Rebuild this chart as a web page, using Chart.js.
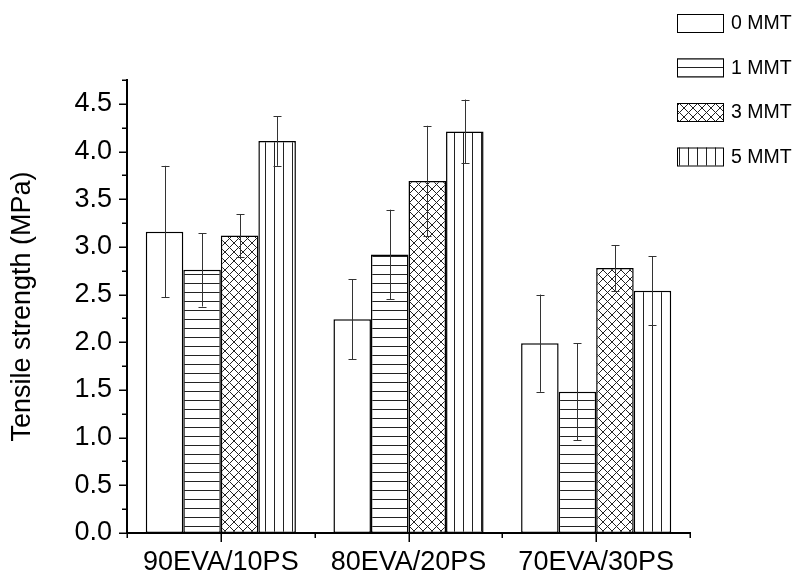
<!DOCTYPE html>
<html>
<head>
<meta charset="utf-8">
<script src="https://cdn.jsdelivr.net/npm/chart.js@4/dist/chart.umd.min.js"></script>
<style>
  body { margin: 0; background: #fff; }
  #wrap { width: 797px; height: 574px; }
</style>
</head>
<body>
<div id="wrap"><canvas id="tensileChart" width="797" height="574"></canvas></div>
<script>
// blends
var categories = ["90EVA/10PS", "80EVA/20PS", "70EVA/30PS"];
var seriesNames = ["0 MMT", "1 MMT", "3 MMT", "5 MMT"];

// tensile strength (MPa)
var mmt0 = [3.16, 2.24, 1.99];
var mmt1 = [2.76, 2.92, 1.48];
var mmt3 = [3.12, 3.69, 2.78];
var mmt5 = [4.11, 4.21, 2.54];

// standard deviation
var err0 = [0.69, 0.42, 0.51];
var err1 = [0.385, 0.47, 0.51];
var err3 = [0.225, 0.58, 0.24];
var err5 = [0.26, 0.335, 0.36];

var yMin = 0;
var yMax = 4.75;
var yStep = 0.25;

var FONT = "'Liberation Sans', Arial, sans-serif";

function makePattern(kind) {
    const c = document.createElement("canvas");
    c.width = 9;
    c.height = 9;
    const g = c.getContext("2d");
    g.fillStyle = "#fff";
    g.fillRect(0, 0, 9, 9);
    g.strokeStyle = "#222";
    g.lineWidth = 1;
    g.beginPath();
    if (kind === "h") {
        g.moveTo(0, 4.5);
        g.lineTo(9, 4.5);
    } else if (kind === "v") {
        g.moveTo(4.5, 0);
        g.lineTo(4.5, 9);
    } else if (kind === "x") {
        [-9, 0, 9].forEach(function (o) {
            g.moveTo(o, 0);
            g.lineTo(o + 9, 9);
            g.moveTo(o + 9, 0);
            g.lineTo(o, 9);
        });
    }
    g.stroke();
    return g.createPattern(c, "repeat");
}

var ctx = document.getElementById("tensileChart").getContext("2d");
var fills = ["#fff", makePattern("h"), makePattern("x"), makePattern("v")];
var values = [mmt0, mmt1, mmt3, mmt5];
var errors = [err0, err1, err3, err5];

const datasets = seriesNames.map(function (name, i) {
    return {
        label: name,
        data: values[i],
        errors: errors[i],
        backgroundColor: fills[i],
        borderColor: "#000",
        borderWidth: 1.5,
        borderSkipped: false,
        categoryPercentage: 0.8,
        barPercentage: 1.0
    };
});

// error bars on top of each bar
const errorBars = {
    id: "errorBars",
    afterDatasetsDraw(chart) {
        const c = chart.ctx;
        const y = chart.scales.y;
        c.save();
        c.strokeStyle = "#333";
        c.lineWidth = 1;
        chart.data.datasets.forEach(function (ds, di) {
            const meta = chart.getDatasetMeta(di);
            meta.data.forEach(function (bar, i) {
                const v = ds.data[i];
                const e = ds.errors[i];
                const top = y.getPixelForValue(v + e);
                const bot = y.getPixelForValue(v - e);
                const x = Math.round(bar.x) + 0.5;
                c.beginPath();
                c.moveTo(x, top);
                c.lineTo(x, bot);
                c.moveTo(x - 4, Math.round(top) + 0.5);
                c.lineTo(x + 4, Math.round(top) + 0.5);
                c.moveTo(x - 4, Math.round(bot) + 0.5);
                c.lineTo(x + 4, Math.round(bot) + 0.5);
                c.stroke();
            });
        });
        c.restore();
    }
};

// outward tick marks, major and minor
const tickMarks = {
    id: "tickMarks",
    afterDraw(chart) {
        const c = chart.ctx;
        const xs = chart.scales.x;
        const ys = chart.scales.y;
        const area = chart.chartArea;
        c.save();
        c.strokeStyle = "#000";
        c.lineWidth = 1.5;
        c.beginPath();
        ys.ticks.forEach(function (t) {
            const major = Math.abs(t.value * 2 - Math.round(t.value * 2)) < 1e-6;
            const len = major ? 8 : 5;
            const py = Math.round(ys.getPixelForValue(t.value)) + 0.25;
            c.moveTo(area.left - len, py);
            c.lineTo(area.left, py);
        });
        for (let i = 0; i <= categories.length; i++) {
            const px = Math.round(xs.getPixelForValue(i - 0.5)) + 0.25;
            c.moveTo(px, area.bottom);
            c.lineTo(px, area.bottom + 5);
        }
        for (let i = 0; i < categories.length; i++) {
            const px = Math.round(xs.getPixelForValue(i)) + 0.25;
            c.moveTo(px, area.bottom);
            c.lineTo(px, area.bottom + 9);
        }
        c.stroke();
        c.restore();
    }
};

// legend in the top right corner
const sideLegend = {
    id: "sideLegend",
    afterDraw(chart) {
        const c = chart.ctx;
        c.save();
        chart.data.datasets.forEach(function (ds, i) {
            const cy = 23 + i * 44.5;
            c.fillStyle = ds.backgroundColor;
            c.fillRect(677, cy - 9, 47, 18);
            c.strokeStyle = "#000";
            c.lineWidth = 1;
            c.strokeRect(677.5, cy - 9 + 0.5, 46, 18);
            c.fillStyle = "#000";
            c.font = "19.5px " + FONT;
            c.textBaseline = "middle";
            c.fillText(ds.label, 731, cy + 1);
        });
        c.restore();
    }
};

new Chart(ctx, {
    type: "bar",
    data: { labels: categories, datasets: datasets },
    options: {
        responsive: false,
        animation: false,
        devicePixelRatio: 1,
        layout: { padding: { top: 80, right: 107, left: 0, bottom: 0 } },
        plugins: {
            legend: { display: false },
            tooltip: { enabled: false }
        },
        scales: {
            x: {
                type: "category",
                offset: true,
                grid: { display: false, drawTicks: false },
                border: { display: true, color: "#000", width: 2 },
                ticks: {
                    color: "#000",
                    font: { family: FONT, size: 27 },
                    padding: 13,
                    maxRotation: 0,
                    autoSkip: false
                },
                afterFit: function (scale) { scale.height = 41; }
            },
            y: {
                min: yMin,
                max: yMax,
                grid: { display: false, drawTicks: false },
                border: { display: true, color: "#000", width: 2 },
                ticks: {
                    stepSize: yStep,
                    color: "#000",
                    font: { family: FONT, size: 27 },
                    padding: 15,
                    autoSkip: false,
                    callback: function (value) {
                        const major = Math.abs(value * 2 - Math.round(value * 2)) < 1e-6;
                        return major ? value.toFixed(1) : "";
                    }
                },
                title: {
                    display: true,
                    text: "Tensile strength (MPa)",
                    color: "#000",
                    font: { family: FONT, size: 27 },
                    padding: { top: 6, bottom: 0 }
                },
                afterFit: function (scale) { scale.width = 127; }
            }
        }
    },
    plugins: [errorBars, tickMarks, sideLegend]
});
</script>
</body>
</html>
